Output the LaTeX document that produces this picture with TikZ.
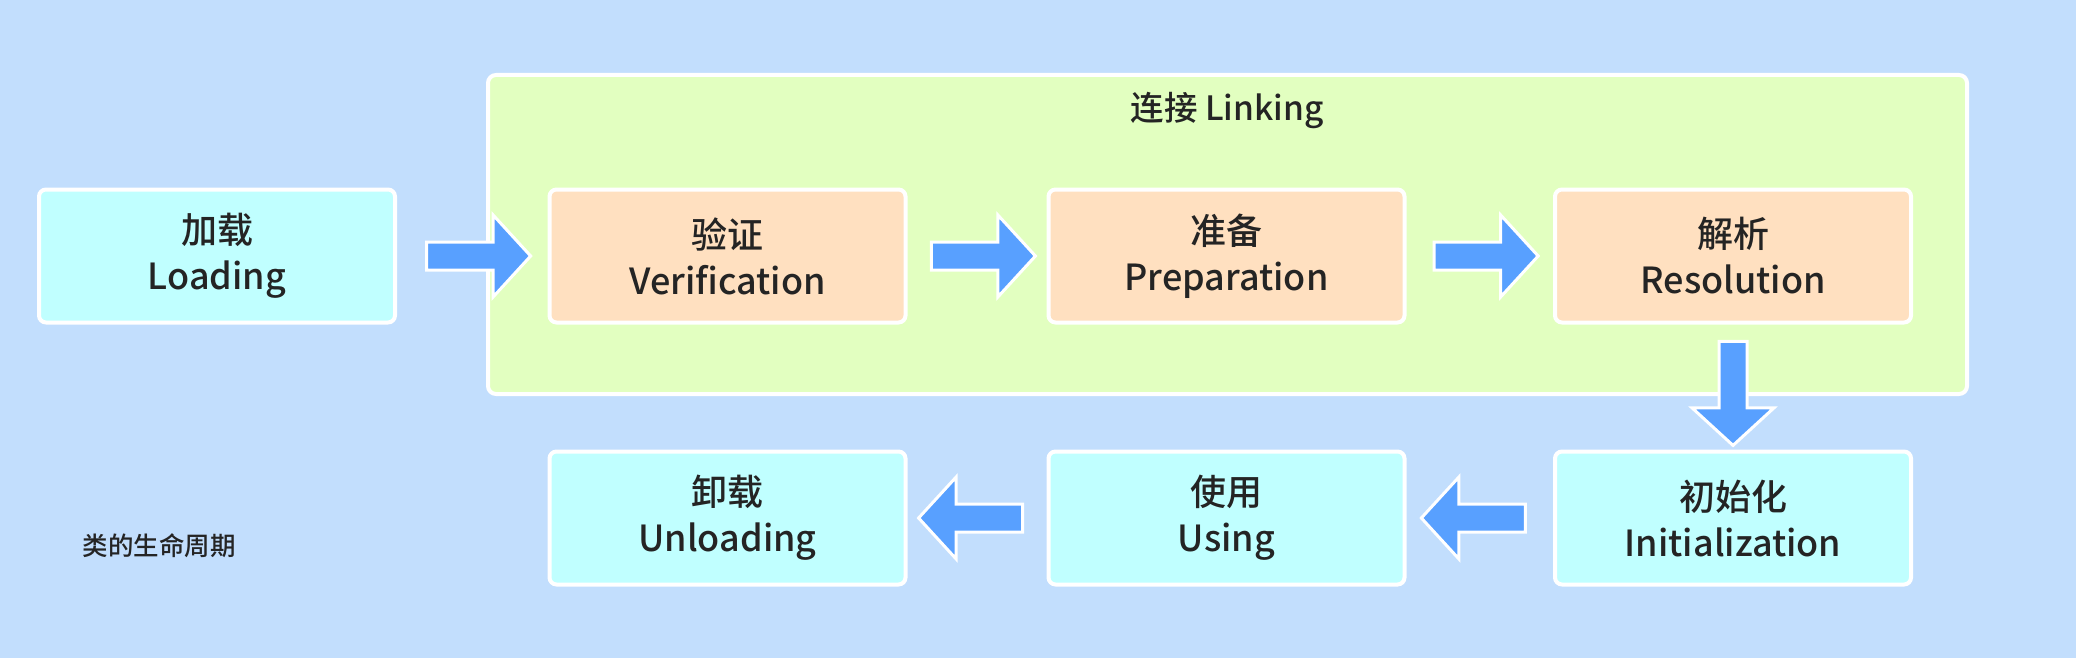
\documentclass[tikz,border=0pt]{standalone}
\usepackage{fontspec}
\setmainfont{Noto Sans CJK SC}[UprightFont={* Medium}, BoldFont={* Medium}]
\usetikzlibrary{calc}
\usetikzlibrary{shapes.arrows}

\definecolor{bgblue}{RGB}{194,222,253}
\definecolor{linkgreen}{RGB}{226,255,192}
\definecolor{stepcyan}{RGB}{192,255,255}
\definecolor{steporange}{RGB}{255,224,192}
\definecolor{arrowblue}{RGB}{88,160,255}
\definecolor{textgray}{RGB}{36,36,36}

\begin{document}
\begin{tikzpicture}[x=1pt, y=-1pt,
    stagebox/.style = {draw=white, line width=4pt, rounded corners=7pt, inner sep=0pt,
        minimum width=356pt, minimum height=133pt, align=center, text=textgray,
        font=\fontsize{36}{46}\selectfont},
    cyanbox/.style = {stagebox, fill=stepcyan},
    orangebox/.style = {stagebox, fill=steporange},
    fatarrow/.style = {single arrow, draw=white, line width=3pt, fill=arrowblue,
        inner xsep=0pt, inner ysep=12.5pt, minimum height=104pt,
        single arrow head extend=27pt, single arrow tip angle=95}]

    \fill[bgblue] (0,0) rectangle (2076,658);

    \node[draw=white, line width=4pt, rounded corners=8pt, fill=linkgreen,
        minimum width=1479pt, minimum height=319pt] (link) at (1227.5,234.5) {};
    \node[text=textgray, font=\fontsize{33.5}{40}\selectfont] (linktitle) at (1227,110) {连接 Linking};

    \node[cyanbox] (load) at (217,256) {加载\\Loading};
    \node[orangebox] (verif) at (727.5,256) {验证\\Verification};
    \node[orangebox] (prep) at (1226.5,256) {准备\\Preparation};
    \node[orangebox] (resol) at (1733,256) {解析\\Resolution};

    \node[cyanbox] (unload) at (727.5,518) {卸载\\Unloading};
    \node[cyanbox] (using) at (1226.5,518) {使用\\Using};
    \node[cyanbox] (init) at (1733,518) {初始化\\Initialization};

    \node[fatarrow] (a1) at ($(load.east)!0.5!(verif.west)$) {};
    \node[fatarrow] (a2) at ($(verif.east)!0.5!(prep.west)$) {};
    \node[fatarrow] (a3) at ($(prep.east)!0.5!(resol.west)$) {};
    \node[fatarrow, rotate=-90] (a4) at ($(resol.south)!0.5!(init.north)$) {};
    \node[fatarrow, rotate=180] (a5) at ($(init.west)!0.5!(using.east)$) {};
    \node[fatarrow, rotate=180] (a6) at ($(using.west)!0.5!(unload.east)$) {};

    \node[anchor=west, text=textgray, font=\fontsize{25.5}{30}\selectfont] (title) at (79,546) {类的生命周期};

\end{tikzpicture}
\end{document}
